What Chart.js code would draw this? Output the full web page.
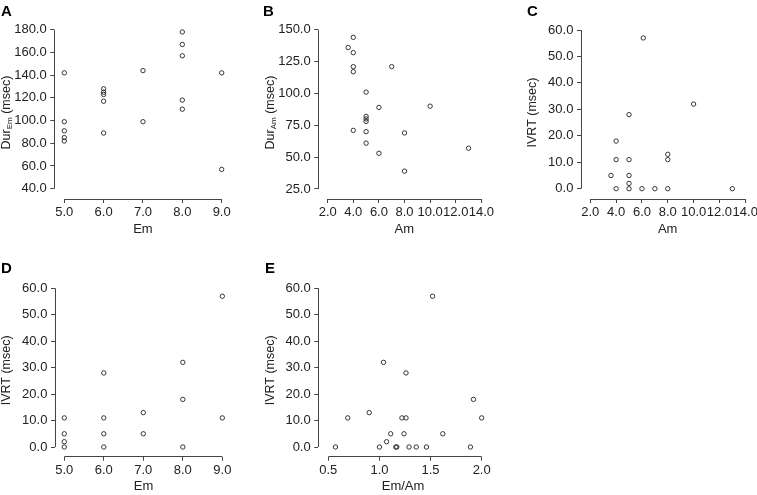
<!DOCTYPE html>
<html>
<head>
<meta charset="utf-8">
<script src="https://cdn.jsdelivr.net/npm/chart.js@4.4.1/dist/chart.umd.min.js"></script>
<style>
  html, body { margin: 0; padding: 0; background: #fff; }
  #wrap { position: relative; width: 757px; height: 495px; }
  #wrap canvas { position: absolute; left: 0; top: 0; }
</style>
</head>
<body>
<div id="wrap">
  <canvas id="chartA" width="757" height="495"></canvas>
  <canvas id="chartB" width="757" height="495"></canvas>
  <canvas id="chartC" width="757" height="495"></canvas>
  <canvas id="chartD" width="757" height="495"></canvas>
  <canvas id="chartE" width="757" height="495"></canvas>
</div>
<script>
// A: Dur(Em) vs Em
const emA   = [5, 5, 5, 5, 5, 6, 6, 6, 6, 6, 7, 7, 8, 8, 8, 8, 8, 9, 9];
const durEm = [142, 99, 91, 85, 82, 128, 125, 123, 117, 89, 144, 99, 178, 167, 157, 118, 110, 142, 57];

// B: Dur(Am) vs Am
const amB   = [3.6, 4, 4, 4, 4, 4, 5, 5, 5, 5, 5, 5, 6, 6, 7, 8, 8, 10, 13];
const durAm = [136, 144, 132, 121, 117, 71, 101, 82, 80, 78, 70, 61, 89, 53, 121, 69, 39, 90, 57];

// C: IVRT vs Am
const amC   = [3.6, 4, 4, 4, 5, 5, 5, 5, 5, 6, 6.1, 7, 8, 8, 8, 10, 13];
const ivrtC = [5, 18, 11, 0, 28, 11, 5, 2, 0, 0, 57, 0, 13, 11, 0, 32, 0];

// D: IVRT vs Em
const emD   = [5, 5, 5, 5, 6, 6, 6, 6, 7, 7, 8, 8, 8, 9, 9];
const ivrtD = [11, 5, 2, 0, 28, 11, 5, 0, 13, 5, 32, 18, 0, 57, 11];

// E: IVRT vs Em/Am
const ratioE = [0.57, 0.69, 0.9, 1.0, 1.04, 1.07, 1.11, 1.16, 1.17, 1.22, 1.24, 1.26, 1.26, 1.29, 1.36, 1.46, 1.52, 1.62, 1.89, 1.92, 2.0];
const ivrtE  = [0, 11, 13, 0, 32, 2, 5, 0, 0, 11, 5, 11, 28, 0, 0, 0, 57, 5, 0, 18, 11];

// tick labels
const emTicks    = [5, 6, 7, 8, 9];
const amTicks    = [2, 4, 6, 8, 10, 12, 14];
const ratioTicks = [0.5, 1.0, 1.5, 2.0];
const durEmTicks = [40, 60, 80, 100, 120, 140, 160, 180];
const durAmTicks = [25, 50, 75, 100, 125, 150];
const ivrtTicks  = [0, 10, 20, 30, 40, 50, 60];

const FONT = '"Liberation Sans", Arial, Helvetica, sans-serif';
const INK = '#222';
const AXIS = '#444';
const YW = 50, XH = 38;

function align(p) { return Math.round(p - 0.5) + 0.5; }

// R-style axes: line only spans first..last tick, plus rotated y title and panel letter
const rStyle = {
  id: 'rStyle',
  afterDraw(chart, args, o) {
    const ctx = chart.ctx, a = chart.chartArea;
    const xs = chart.scales.x, ys = chart.scales.y;
    ctx.save();
    ctx.strokeStyle = AXIS;
    ctx.lineWidth = 1;
    ctx.beginPath();
    const yb = align(a.bottom);
    ctx.moveTo(xs.getPixelForValue(xs.ticks[0].value), yb);
    ctx.lineTo(xs.getPixelForValue(xs.ticks[xs.ticks.length - 1].value), yb);
    const xl = align(a.left);
    ctx.moveTo(xl, ys.getPixelForValue(ys.ticks[0].value));
    ctx.lineTo(xl, ys.getPixelForValue(ys.ticks[ys.ticks.length - 1].value));
    ctx.stroke();

    // y title (with optional subscript)
    ctx.fillStyle = INK;
    ctx.textBaseline = 'middle';
    ctx.textAlign = 'left';
    let total = 0;
    o.ytitle.forEach(p => {
      ctx.font = p.size + 'px ' + FONT;
      p.w = ctx.measureText(p.text).width;
      total += p.w;
    });
    ctx.translate(a.left - 48, (a.top + a.bottom) / 2 + 1);
    ctx.rotate(-Math.PI / 2);
    let x = -total / 2;
    o.ytitle.forEach(p => {
      ctx.font = p.size + 'px ' + FONT;
      ctx.fillText(p.text, x, p.sub ? 3.5 : 0);
      x += p.w;
    });
    ctx.setTransform(1, 0, 0, 1, 0, 0);

    // panel letter
    ctx.font = 'bold 15px ' + FONT;
    ctx.textBaseline = 'alphabetic';
    ctx.fillStyle = '#000';
    ctx.fillText(o.letter.text, o.letter.x, o.letter.y);
    ctx.restore();
  }
};

function panel(id, p) {
  const tickFont = { family: FONT, size: 13 };
  const grid = { display: true, drawOnChartArea: false, drawTicks: true, tickLength: 4, color: AXIS, lineWidth: 1 };
  new Chart(document.getElementById(id), {
    type: 'scatter',
    data: {
      datasets: [{
        data: p.xs.map((v, i) => ({ x: v, y: p.ys[i] })),
        pointStyle: 'circle',
        pointRadius: 2.2,
        pointBorderWidth: 0.9,
        borderColor: INK,
        backgroundColor: 'rgba(0,0,0,0)'
      }]
    },
    options: {
      responsive: false,
      animation: false,
      layout: {
        autoPadding: false,
        padding: {
          left: p.area.left - YW,
          top: p.area.top,
          right: 757 - p.area.right,
          bottom: 495 - p.area.bottom - XH
        }
      },
      plugins: {
        legend: { display: false },
        tooltip: { enabled: false },
        rStyle: { ytitle: p.ytitle, letter: p.letter }
      },
      scales: {
        x: {
          type: 'linear', position: 'bottom',
          min: p.xMin, max: p.xMax,
          afterBuildTicks: s => { s.ticks = p.xTicks.map(v => ({ value: v })); },
          afterFit: s => { s.height = XH; s.paddingLeft = s.paddingRight = s.paddingTop = s.paddingBottom = 0; },
          ticks: { callback: v => v.toFixed(1), font: tickFont, color: INK, padding: 2, autoSkip: false, maxRotation: 0, minRotation: 0 },
          grid: grid,
          border: { display: false },
          title: { display: true, text: p.xtitle, font: { family: FONT, size: 13 }, color: INK, padding: 0 }
        },
        y: {
          type: 'linear', position: 'left',
          min: p.yMin, max: p.yMax,
          afterBuildTicks: s => { s.ticks = p.yTicks.map(v => ({ value: v })); },
          afterFit: s => { s.width = YW; s.paddingLeft = s.paddingRight = s.paddingTop = s.paddingBottom = 0; },
          ticks: { callback: v => v.toFixed(1), font: tickFont, color: INK, padding: 3.6, autoSkip: false },
          grid: grid,
          border: { display: false }
        }
      }
    },
    plugins: [rStyle]
  });
}

const ivrtTitle = [{ text: 'IVRT (msec)', size: 12.5 }];

panel('chartA', {
  xs: emA, ys: durEm, xTicks: emTicks, yTicks: durEmTicks,
  xMin: 4.746, xMax: 9.25, yMin: 30.93, yMax: 185.02,
  area: { left: 54.3, top: 24, right: 231.5, bottom: 199 },
  xtitle: 'Em',
  ytitle: [{ text: 'Dur', size: 12.5 }, { text: 'Em', size: 8, sub: true }, { text: ' (msec)', size: 12.5 }],
  letter: { text: 'A', x: 1, y: 16 }
});

panel('chartB', {
  xs: amB, ys: durAm, xTicks: amTicks, yTicks: durAmTicks,
  xMin: 1.266, xMax: 14.7, yMin: 17.15, yMax: 154.47,
  area: { left: 318.3, top: 24, right: 490.3, bottom: 199 },
  xtitle: 'Am',
  ytitle: [{ text: 'Dur', size: 12.5 }, { text: 'Am', size: 8, sub: true }, { text: ' (msec)', size: 12.5 }],
  letter: { text: 'B', x: 263, y: 16 }
});

panel('chartC', {
  xs: amC, ys: ivrtC, xTicks: amTicks, yTicks: ivrtTicks,
  xMin: 1.28, xMax: 14.7, yMin: -3.894, yMax: 62.27,
  area: { left: 581, top: 24, right: 754.3, bottom: 199 },
  xtitle: 'Am',
  ytitle: ivrtTitle,
  letter: { text: 'C', x: 527, y: 16 }
});

panel('chartD', {
  xs: emD, ys: ivrtD, xTicks: emTicks, yTicks: ivrtTicks,
  xMin: 4.765, xMax: 9.25, yMin: -3.667, yMax: 62.38,
  area: { left: 55, top: 282, right: 232.2, bottom: 456.7 },
  xtitle: 'Em',
  ytitle: ivrtTitle,
  letter: { text: 'D', x: 1, y: 273 }
});

panel('chartE', {
  xs: ratioE, ys: ivrtE, xTicks: ratioTicks, yTicks: ivrtTicks,
  xMin: 0.402, xMax: 2.06, yMin: -3.667, yMax: 62.38,
  area: { left: 318.3, top: 282, right: 487.8, bottom: 456.7 },
  xtitle: 'Em/Am',
  ytitle: ivrtTitle,
  letter: { text: 'E', x: 265, y: 273 }
});
</script>
</body>
</html>
